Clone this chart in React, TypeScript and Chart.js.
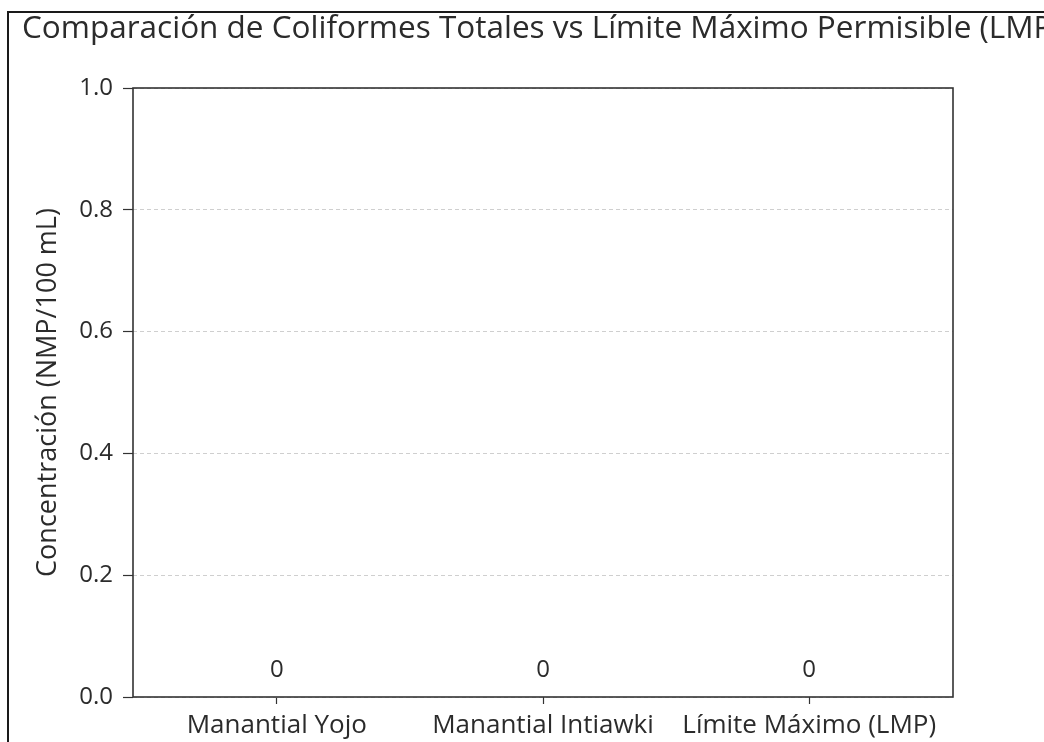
import React, { useEffect, useRef } from "react";
import { Chart, registerables } from "chart.js";

Chart.register(...registerables);

const TITLE = "Comparación de Coliformes Totales vs Límite Máximo Permisible (LMP)";
const Y_TITLE = "Concentración (NMP/100 mL)";
const CATEGORIES = ["Manantial Yojo", "Manantial Intiawki", "Límite Máximo (LMP)"];
const VALUES = [0, 0, 0];
const VALUE_LABELS = ["0", "0", "0"];
const Y_TICKS = [0, 0.2, 0.4, 0.6, 0.8, 1.0];
const BAR_COLORS = ["#1f77b4", "#2ca02c", "#d62728"];

const FONT = "'Open Sans', sans-serif";
const TEXT = "#2b2b2b";
const AXIS = "#333333";

// Title drawn without a max width so it overflows the canvas edge like the original
const titlePlugin = {
  id: "overflowTitle",
  afterDraw(chart: any) {
    const { ctx } = chart;
    ctx.save();
    ctx.fillStyle = TEXT;
    ctx.font = `31.5px ${FONT}`;
    ctx.textAlign = "left";
    ctx.textBaseline = "alphabetic";
    ctx.fillText(TITLE, 22, 38);
    ctx.restore();
  },
};

const boxPlugin = {
  id: "boxPlugin",
  afterDraw(chart: any) {
    const { ctx, chartArea } = chart;
    ctx.save();
    ctx.strokeStyle = AXIS;
    ctx.lineWidth = 1.6;
    ctx.setLineDash([]);
    ctx.strokeRect(chartArea.left, chartArea.top, chartArea.right - chartArea.left, chartArea.bottom - chartArea.top);
    ctx.restore();
  },
};

const valueLabelPlugin = {
  id: "valueLabelPlugin",
  afterDatasetsDraw(chart: any) {
    const { ctx } = chart;
    const meta = chart.getDatasetMeta(0);
    ctx.save();
    ctx.fillStyle = TEXT;
    ctx.font = `24px ${FONT}`;
    ctx.textAlign = "center";
    ctx.textBaseline = "alphabetic";
    meta.data.forEach((bar: any, i: number) => {
      ctx.fillText(VALUE_LABELS[i], bar.x, bar.y - 20);
    });
    ctx.restore();
  },
};

export default function App() {
  const canvasRef = useRef<HTMLCanvasElement | null>(null);

  useEffect(() => {
    const canvas = canvasRef.current;
    if (!canvas) return;
    const chart = new Chart(canvas, {
      type: "bar",
      data: {
        datasets: [
          {
            data: VALUES.map((v, i) => ({ x: i, y: v })),
            backgroundColor: BAR_COLORS,
            borderWidth: 0,
            barPercentage: 0.8,
            categoryPercentage: 1,
          },
        ],
      },
      plugins: [titlePlugin, boxPlugin, valueLabelPlugin],
      options: {
        responsive: false,
        animation: false,
        devicePixelRatio: 1,
        layout: { padding: { left: 22, top: 88, right: 91, bottom: 0 } },
        plugins: {
          legend: { display: false },
          tooltip: { enabled: false },
          title: { display: false },
        },
        scales: {
          x: {
            type: "linear",
            offset: false,
            min: -0.54,
            max: 2.54,
            afterBuildTicks: (scale: any) => {
              scale.ticks = CATEGORIES.map((_, i) => ({ value: i }));
            },
            afterFit: (scale: any) => {
              scale.height = 45;
            },
            grid: {
              display: true,
              offset: false,
              drawOnChartArea: false,
              drawTicks: true,
              tickLength: 7,
              tickColor: AXIS,
              tickWidth: 1.2,
            },
            border: { display: false },
            ticks: {
              autoSkip: false,
              maxRotation: 0,
              padding: 6,
              color: TEXT,
              font: { family: FONT, size: 26 },
              callback: (v: any) => CATEGORIES[Math.round(Number(v))] ?? "",
            },
          },
          y: {
            type: "linear",
            min: 0,
            max: 1,
            afterBuildTicks: (scale: any) => {
              scale.ticks = Y_TICKS.map((v) => ({ value: v }));
            },
            afterFit: (scale: any) => {
              scale.width = 111;
            },
            grid: {
              display: true,
              drawOnChartArea: true,
              drawTicks: true,
              color: "#cfcfcf",
              lineWidth: 1,
              borderDash: [4, 3],
              tickLength: 10,
              tickColor: AXIS,
              tickWidth: 1.2,
              tickBorderDash: [],
            } as any,
            border: { display: false, dash: [4, 3] },
            ticks: {
              padding: 10,
              color: TEXT,
              font: { family: FONT, size: 24 },
              callback: (v: any) => Number(v).toFixed(1),
            },
            title: {
              display: true,
              text: Y_TITLE,
              color: TEXT,
              font: { family: FONT, size: 27 },
              padding: { top: 10, bottom: 0 },
            },
          },
        },
      } as any,
    });
    return () => chart.destroy();
  }, []);

  return (
    <div
      style={{
        position: "fixed",
        left: 0,
        top: 0,
        width: 1044,
        height: 742,
        background: "#ffffff",
        overflow: "hidden",
      }}
    >
      <div
        style={{
          position: "absolute",
          left: 7,
          top: 11,
          width: 1100,
          height: 800,
          borderLeft: "2px solid #1a1a1a",
          borderTop: "2px solid #1a1a1a",
        }}
      />
      <canvas
        ref={canvasRef}
        width={1044}
        height={742}
        style={{ position: "absolute", left: 0, top: 0, width: 1044, height: 742 }}
      />
    </div>
  );
}
